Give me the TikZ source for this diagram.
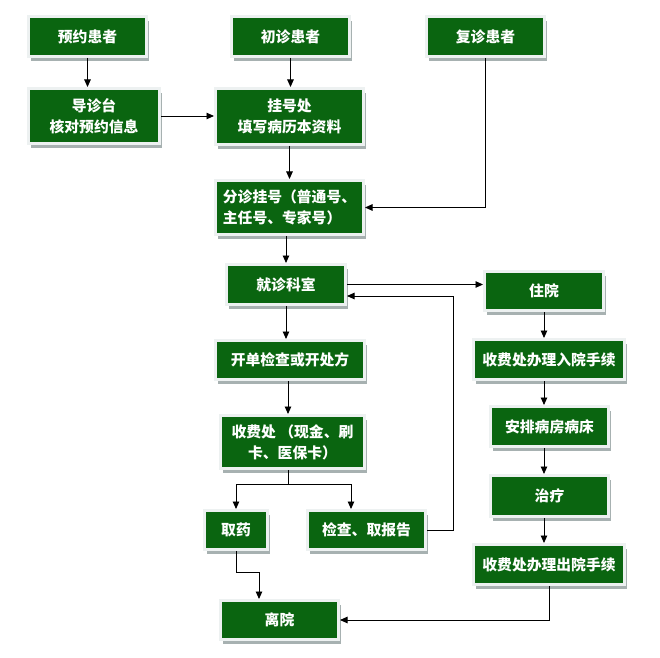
\documentclass[tikz,border=0pt]{standalone}
\usepackage{fontspec}
\newfontfamily\cjk{Noto Sans CJK SC}
\usepackage{xcolor}
\usepackage{tikz}
\usetikzlibrary{arrows.meta,shadows}
\definecolor{Forest}{HTML}{0A6510}
\definecolor{Frame}{HTML}{EDF1F1}
\definecolor{Shade}{HTML}{A7B1B1}

\begin{document}
\begin{tikzpicture}[x=1pt,y=1pt,
  flowbox/.style={draw=Frame,line width=3pt,fill=Forest,text=white,align=center,inner sep=2pt,
    font=\cjk\bfseries\fontsize{14.8}{21}\selectfont,
    drop shadow={shadow xshift=2.5pt,shadow yshift=-4.5pt,fill=Shade,opacity=1}},
  arr/.style={-{Triangle[length=7.5pt,width=6.5pt]},line width=0.9pt}]
  \path[use as bounding box,fill=white] (0,0) rectangle (660,657);
  % patients
  \node[flowbox,minimum width=118pt,minimum height=40pt] (yuyue) at (87.5,620.5) {预约患者};
  \node[flowbox,minimum width=118pt,minimum height=40pt] (chuzhen) at (290.5,620.5) {初诊患者};
  \node[flowbox,minimum width=118pt,minimum height=40pt] (fuzhen) at (485.5,620.5) {复诊患者};
  \node[flowbox,minimum width=131pt,minimum height=55pt] (daozhen) at (94,541) {导诊台\\核对预约信息};
  \node[flowbox,minimum width=148pt,minimum height=56pt] (guahao) at (289.5,540.5) {挂号处\\填写病历本资料};
  \node[flowbox,minimum width=148pt,minimum height=54pt,align=left] (fenzhen) at (289.5,449.5) {分诊挂号（普通号、\\主任号、专家号）};
  % outpatient
  \node[flowbox,minimum width=119pt,minimum height=40pt] (jiuzhen) at (286,372.5) {就诊科室};
  \node[flowbox,minimum width=149pt,minimum height=39pt] (kaidan) at (290,297) {开单检查或开处方};
  \node[flowbox,minimum width=144pt,minimum height=53pt] (shoufei) at (292.5,215) {收费处 （现金、刷\\卡、医保卡）};
  \node[flowbox,minimum width=63pt,minimum height=39pt] (quyao) at (236,127) {取药};
  \node[flowbox,minimum width=118pt,minimum height=39pt] (jiancha) at (366.5,127) {检查、取报告};
  \node[flowbox,minimum width=118pt,minimum height=39pt] (liyuan) at (279.5,37) {离院};
  % inpatient
  \node[flowbox,minimum width=119pt,minimum height=39pt] (zhuyuan) at (544,366) {住院};
  \node[flowbox,minimum width=151pt,minimum height=40pt] (ruyuan) at (549,297.5) {收费处办理入院手续};
  \node[flowbox,minimum width=118pt,minimum height=40pt] (anpai) at (549.5,230.5) {安排病房病床};
  \node[flowbox,minimum width=118pt,minimum height=41pt] (zhiliao) at (549.5,161) {治疗};
  \node[flowbox,minimum width=151pt,minimum height=40pt] (chuyuan) at (549,92.5) {收费处办理出院手续};
  \coordinate (turn) at (453,361);
  \coordinate (fork) at (288,173);
  % connectors
  \draw[arr] (yuyue) -- (yuyue |- daozhen.north);
  \draw[arr] (chuzhen) -- (chuzhen |- guahao.north);
  \draw[arr] (daozhen.east) -- (daozhen.east -| guahao.west);
  \draw[arr] (guahao) -- (fenzhen);
  \draw[arr] (fuzhen) |- (fenzhen);
  \draw[arr] (jiuzhen |- fenzhen.south) -- (jiuzhen);
  \draw[arr] (jiuzhen) -- (jiuzhen -| zhuyuan.west);
  \draw[arr] (jiuzhen) -- (jiuzhen |- kaidan.north);
  \draw[arr] (kaidan.south -| fork) -- (fork |- shoufei.north);
  \draw (shoufei.south -| fork) -- (fork);
  \draw[arr] (fork) -| (quyao);
  \draw[arr] (fork) -| ([xshift=-15.5pt]jiancha.north);
  \draw[arr] (jiancha.east) -| (turn) -- (turn -| jiuzhen.east);
  \draw[arr] (quyao.south) -- ++(0,-21) -| ([xshift=-20.5pt]liyuan.north);
  \draw[arr] (zhuyuan) -- (zhuyuan |- ruyuan.north);
  \draw[arr] (ruyuan.south -| zhuyuan) -- (zhuyuan |- anpai.north);
  \draw[arr] (anpai.south -| zhuyuan) -- (zhuyuan |- zhiliao.north);
  \draw[arr] (zhiliao.south -| zhuyuan) -- (zhuyuan |- chuyuan.north);
  \draw[arr] (chuyuan) |- (liyuan);
\end{tikzpicture}
\end{document}
